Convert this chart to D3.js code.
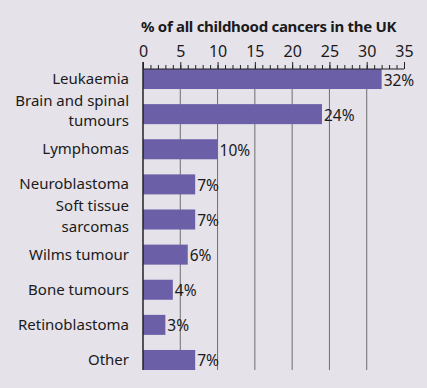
<!DOCTYPE html>
<head>
  <meta charset="utf-8">
  <script src="https://d3js.org/d3.v7.min.js"></script>
  <style>
    body { margin:0; background:#e5e2ea; }
    text { font-family: "Noto Sans", sans-serif; fill:#1a1a1a; }
  </style>
</head>
<body>
<script>
  // data
  var categories = [["Leukaemia"], ["Brain and spinal", "tumours"], ["Lymphomas"], ["Neuroblastoma"],
    ["Soft tissue", "sarcomas"], ["Wilms tumour"], ["Bone tumours"], ["Retinoblastoma"], ["Other"]];
  var values = [32, 24, 10, 7, 7, 6, 4, 3, 7];
  var tickValues = [0, 5, 10, 15, 20, 25, 30, 35];
  var title = "% of all childhood cancers in the UK";

  var W = 427, H = 388;
  var svg = d3.select("body").append("svg")
    .attr("width", W).attr("height", H);

  svg.append("rect").attr("width", W).attr("height", H).attr("fill", "#e5e2ea");

  var x = d3.scaleLinear().domain([0, 35]).range([143, 404]);
  var y = d3.scaleBand()
    .domain(d3.range(values.length))
    .range([69, 370])
    .paddingInner(0.43)
    .paddingOuter(0);

  // gridlines
  svg.append("g").selectAll("line")
    .data(tickValues.filter(function(d){ return d > 0 && d < 35; }))
    .enter().append("line")
    .attr("x1", function(d){ return x(d); }).attr("x2", function(d){ return x(d); })
    .attr("y1", 69).attr("y2", 370)
    .attr("stroke", "#6e6e6e").attr("stroke-width", 1);

  // bars
  svg.append("g").selectAll("rect")
    .data(values)
    .enter().append("rect")
    .attr("x", x(0))
    .attr("y", function(d, i){ return y(i); })
    .attr("width", function(d){ return x(d) - x(0); })
    .attr("height", y.bandwidth())
    .attr("fill", "#6b5fa8");

  // value labels
  svg.append("g").selectAll("text")
    .data(values)
    .enter().append("text")
    .attr("x", function(d){ return x(d) + 2; })
    .attr("y", function(d, i){ return y(i) + y.bandwidth() / 2 + 6.5; })
    .attr("font-size", 15.5)
    .text(function(d){ return d + "%"; });

  // category labels, one text per line
  var lab = svg.append("g");
  categories.forEach(function(d, i){
    var cy = y(i) + y.bandwidth() / 2;
    d.forEach(function(line, j){
      var dy = d.length == 1 ? 5 : (j == 0 ? -8.5 : 12);
      lab.append("text")
        .attr("text-anchor", "end")
        .attr("font-size", 15)
        .attr("x", 129)
        .attr("y", cy + dy)
        .text(line);
    });
  });

  // top axis
  var xAxis = d3.axisTop(x).tickValues(tickValues).tickSize(7).tickPadding(5);
  var ax = svg.append("g").attr("transform", "translate(0,69)").call(xAxis);
  ax.select(".domain").remove();
  ax.selectAll("line").attr("stroke", "#222");
  ax.selectAll("text").attr("font-size", 16).attr("font-family", "Noto Sans").attr("fill", "#1a1a1a");
  var minor = d3.axisTop(x).ticks(35).tickSize(4).tickFormat("");
  var mi = svg.append("g").attr("transform", "translate(0,69)").call(minor);
  mi.select(".domain").remove();
  mi.selectAll("line").attr("stroke", "#222");

  svg.append("line").attr("x1", x(0)).attr("x2", x(35)).attr("y1", 69).attr("y2", 69)
    .attr("stroke", "#222").attr("stroke-width", 1.2);
  svg.append("line").attr("x1", x(0)).attr("x2", x(0)).attr("y1", 62).attr("y2", 370)
    .attr("stroke", "#222").attr("stroke-width", 1.5);

  // title
  svg.append("text")
    .attr("x", 141).attr("y", 32)
    .attr("font-size", 15).attr("font-weight", "bold")
    .attr("letter-spacing", -0.3)
    .text(title);
</script>
</body>
